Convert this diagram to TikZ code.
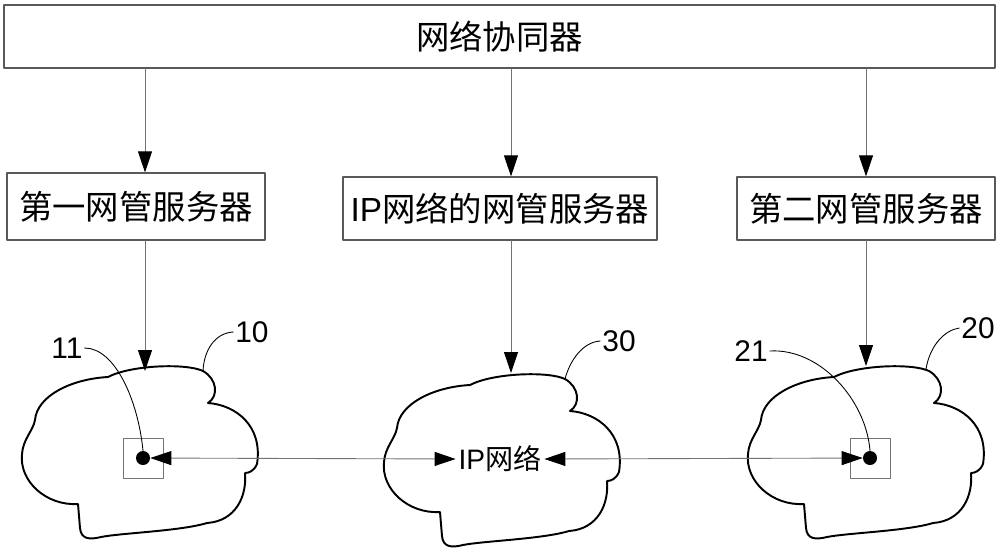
\documentclass[tikz,border=0pt]{standalone}
\usepackage{fontspec}
\setmainfont{Liberation Sans}
\newfontfamily\cjk{Noto Sans CJK SC}
\usetikzlibrary{arrows.meta, calc, positioning}
\definecolor{linegray}{rgb}{0.45, 0.45, 0.45}
\definecolor{boxgray}{rgb}{0.35, 0.35, 0.35}

\begin{document}
\begin{tikzpicture}[line cap=round, line join=round, x=0.2mm, y=-0.2mm,
	>={Triangle[length=4.2mm,width=2.8mm,black]},
	box/.style={draw=boxgray, line width=0.7pt, inner sep=0pt, font=\cjk\fontsize{19}{22}\selectfont},
	link/.style={linegray, line width=0.5pt},
	dot/.style={circle, fill=black, inner sep=0pt, minimum size=2.8mm},
	port/.style={draw=linegray, line width=0.5pt, inner sep=0pt, minimum size=8mm},
	tag/.style={inner sep=1pt, font=\fontsize{17}{20}\selectfont},
	leader/.style={black, line width=0.5pt},
	netcloud/.pic={
		\draw [black, line width=1.1pt] (-106,-31) .. controls (-104,-55) and (-70,-72) .. (-33,-74)
			.. controls (-10,-86) and (45,-88) .. (62,-80)
			.. controls (76,-72) and (78,-55) .. (67,-48)
			.. controls (95,-46) and (122,-25) .. (116,13)
			.. controls (113,20) and (108,22) .. (104,22)
			.. controls (106,45) and (95,70) .. (66,72)
			.. controls (40,80) and (-20,82) .. (-40,86)
			.. controls (-52,89) and (-60,88) .. (-61,77)
			.. controls (-62,65) .. (-63,53)
			.. controls (-95,55) and (-122,30) .. (-119,3)
			.. controls (-118,-12) and (-108,-20) .. (-106,-31) -- cycle;
	}]

		\useasboundingbox (0,0) rectangle (1000,549);

		% boxes
		\node [box, minimum width=198.2mm, minimum height=12.6mm] (sync) at (499.5,36.5) {网络协同器};
		\node [box, minimum width=51.6mm, minimum height=13.4mm] (nm1) at (136,206.5) {第一网管服务器};
		\node [box, minimum width=62.8mm, minimum height=12.6mm] (nm2) at (500,208.5) {\rmfamily IP{\cjk 网络的网管服务器}};
		\node [box, minimum width=51.6mm, minimum height=12.6mm] (nm3) at (866,208.5) {第二网管服务器};

		% clouds
		\pic at (141,451) {netcloud};
		\pic at (503,459) {netcloud};
		\pic at (867,451) {netcloud};

		% arrow columns and cloud tops
		\coordinate (c1) at (145,0);
		\coordinate (c2) at (511,0);
		\coordinate (c3) at (866,0);
		\coordinate (top1) at (145,371);
		\coordinate (top2) at (511,373);
		\coordinate (top3) at (866,366);

		\draw [->,link] (sync.south -| c1)--(nm1.north -| c1);
		\draw [->,link] (sync.south -| c2)--(nm2.north -| c2);
		\draw [->,link] (sync.south -| c3)--(nm3.north -| c3);
		\draw [->,link] (nm1.south -| c1)--(top1);
		\draw [->,link] (nm2.south -| c2)--(top2);
		\draw [->,link] (nm3.south -| c3)--(top3);

		% network elements
		\node [port] (p1) at (143,458) {};
		\node [port] (p3) at (870,458) {};
		\node [dot] (d1) at (143,458) {};
		\node [dot] (d3) at (870,458) {};
		\node [inner sep=1.5pt, font=\fontsize{16}{18}\selectfont] (ipnet) at (500,459) {IP{\cjk 网络}};

		\draw [<->,link] (d1)--(ipnet.west);
		\draw [<->,link] (ipnet.east)--(d3);

		% reference numerals
		\node [tag] (l11) at (67,348) {11};
		\node [tag] (l10) at (252,332) {10};
		\node [tag] (l30) at (619,341) {30};
		\node [tag] (l21) at (751,351) {21};
		\node [tag] (l20) at (978,328) {20};
		\coordinate (e10) at (203,371);
		\coordinate (e30) at (565,379);
		\coordinate (e20) at (926,369);

		\draw [leader] (l11.east) .. controls (115,348) and (138,400) .. (d1.north);
		\draw [leader] (l10.west) .. controls (215,333) and (204,350) .. (e10);
		\draw [leader] (l30.west) .. controls (583,342) and (570,360) .. (e30);
		\draw [leader] (l21.east) .. controls (820,348) and (866,400) .. (d3.north);
		\draw [leader] (l20.west) .. controls (945,330) and (930,345) .. (e20);
\end{tikzpicture}
\end{document}
